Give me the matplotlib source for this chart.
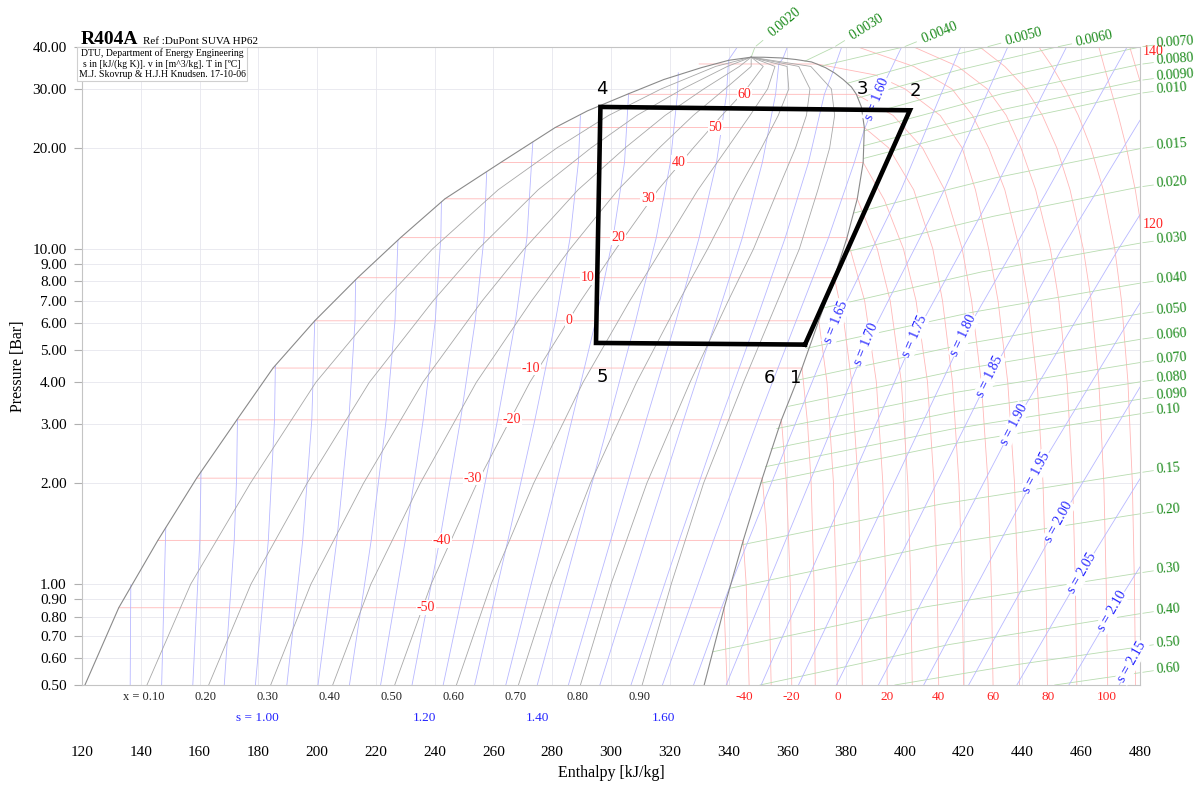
import math
import matplotlib
matplotlib.use("Agg")
import matplotlib.pyplot as plt
import matplotlib.transforms as mtransforms
from matplotlib.ticker import NullLocator

plt.rcParams["font.family"] = ["Liberation Serif", "DejaVu Serif"]

# ---------------- saturation dome ----------------
LIQ_H = [121.0, 132.5, 145.8, 159.0, 172.7, 185.0, 199.2, 213.8, 228.4, 243.5, 262.5, 281.0,
         292.0, 305.5, 318.0, 330.7, 340.0, 347.7]
LIQ_P = [0.5, 0.85, 1.35, 2.07, 3.09, 4.41, 6.1, 8.2, 10.8, 14.1, 18.1, 23.0,
         25.8, 28.9, 32.0, 34.7, 36.5, 37.3]
VAP_H = [347.7, 352.0, 358.0, 363.0, 368.2, 370.0, 373.0, 376.0, 379.0, 381.8, 383.5, 385.2,
         386.2, 385.8, 383.8, 380.3, 376.0, 370.7, 365.0, 358.0, 351.5, 345.0, 338.5, 331.7]
VAP_P = [37.3, 37.28, 37.1, 36.7, 36.1, 35.6, 34.7, 33.5, 32.0, 30.4, 28.9, 26.5,
         23.0, 18.1, 14.1, 10.8, 8.2, 6.1, 4.41, 3.09, 2.07, 1.35, 0.85, 0.5]

# ---------------- refrigeration cycle ----------------
CYCLE_H = [366.0, 401.7, 296.4, 294.9, 366.0]
CYCLE_P = [5.18, 25.9, 26.5, 5.24, 5.18]
POINT_NAMES = ["4", "3", "2", "5", "6", "1"]
POINT_H = [297.0, 385.6, 403.4, 297.0, 353.8, 362.9]
POINT_P = [29.9, 29.9, 29.5, 4.16, 4.12, 4.12]

# ---------------- axes ----------------
H_TICKS = list(range(120, 481, 20))
P_TICKS = [0.5, 0.6, 0.7, 0.8, 0.9, 1, 2, 3, 4, 5, 6, 7, 8, 9, 10, 20, 30, 40]

# ---------------- isotherms [C] ----------------
ISO_T = [-50, -40, -30, -20, -10, 0, 10, 20, 30, 40, 50, 60, 70]
ISO_PSAT = [0.85, 1.35, 2.07, 3.09, 4.41, 6.1, 8.2, 10.8, 14.1, 18.1, 23.0, 28.9, 35.6]
ISO_HLIQ = [132.5, 145.8, 159.0, 172.7, 185.0, 199.2, 213.8, 228.4, 243.5, 262.5, 281.0, 305.5, 330.0]
ISO_VAP_P = [
    [0.5, 0.85],
    [0.5, 1.0, 1.35],
    [0.5, 1.0, 1.5, 2.07],
    [0.5, 1.0, 2.0, 3.09],
    [0.5, 1.0, 2.0, 3.0, 4.41],
    [0.5, 1.0, 2.0, 4.0, 6.1],
    [0.5, 1.0, 2.0, 4.0, 6.0, 8.2],
    [0.5, 1.0, 2.0, 4.0, 7.0, 10.8],
    [0.5, 1.0, 2.0, 4.0, 7.0, 10.0, 14.1],
    [0.5, 1.0, 2.0, 4.0, 7.0, 10.0, 14.0, 18.1],
    [0.5, 1.0, 2.0, 4.0, 7.0, 10.0, 15.0, 20.0, 23.0],
    [0.5, 1.0, 2.0, 4.0, 7.0, 10.0, 15.0, 20.0, 25.0, 28.9],
    [0.5, 1.0, 2.0, 4.0, 7.0, 10.0, 15.0, 20.0, 25.0, 30.0, 33.0, 35.6],
]
ISO_VAP_H = [
    [339.5, 338.5],
    [347.0, 346.0, 345.0],
    [354.5, 353.7, 352.8, 351.5],
    [361.5, 361.0, 359.7, 358.0],
    [369.5, 369.1, 368.1, 366.9, 365.0],
    [377.0, 376.6, 375.7, 373.5, 370.7],
    [385.5, 385.0, 384.1, 381.9, 379.3, 376.0],
    [394.0, 393.5, 392.5, 390.3, 386.3, 380.3],
    [402.5, 402.0, 401.0, 398.8, 395.0, 390.6, 383.8],
    [411.5, 411.0, 409.9, 407.7, 403.8, 399.5, 393.0, 385.8],
    [420.0, 419.5, 418.4, 416.2, 412.8, 409.5, 403.0, 394.5, 386.2],
    [430.0, 429.4, 428.3, 426.0, 422.7, 419.5, 413.5, 406.0, 396.0, 383.5],
    [439.0, 438.4, 437.3, 435.0, 431.7, 428.5, 424.0, 419.5, 412.0, 400.0, 390.0, 370.0],
]
ISO_LABEL_H = [236.9, 242.4, 253.0, 266.3, 272.7, 285.7, 292.2, 302.4, 312.6, 323.2, 335.5, 345.4]

SUPER_T = [80, 90, 100, 110, 120, 130]
SUPER_P = [0.5, 1, 2, 4, 7, 10, 15, 20, 25, 30, 35, 40]
SUPER_H = [
    [448.5, 448.0, 447.0, 445.0, 442.0, 439.0, 434.0, 428.5, 423.0, 416.0, 403.0, 384.0],
    [458.5, 458.0, 457.1, 455.2, 452.4, 449.5, 444.5, 439.5, 434.5, 428.0, 418.0, 403.0],
    [469.0, 468.5, 467.7, 466.0, 463.4, 460.7, 456.2, 451.7, 446.8, 441.2, 434.0, 425.5],
    [478.5, 478.1, 477.4, 475.9, 473.7, 471.4, 467.5, 463.3, 459.0, 454.5, 450.1, 445.6],
    [488.5, 488.1, 487.4, 486.0, 483.8, 481.6, 478.4, 475.4, 472.6, 470.0, 467.8, 466.0],
    [498.5, 498.1, 497.4, 496.1, 494.1, 492.1, 489.0, 486.0, 483.3, 480.8, 478.5, 476.5],
]
BOTTOM_T = ["-40", "-20", "0", "20", "40", "60", "80", "100"]
BOTTOM_T_H = [345.3, 361.4, 377.1, 393.8, 411.5, 429.9, 448.6, 468.8]
RIGHT_T = ["120", "140"]
RIGHT_T_P = [11.8, 38.8]

# ---------------- vapour quality lines ----------------
X_TEXT = ["x = 0.10", "0.20", "0.30", "0.40", "0.50", "0.60", "0.70", "0.80", "0.90"]
X_P = [0.5, 1, 2, 4, 7, 10, 15, 20, 25, 30, 35, 37.3]
X_H = [
    [142.1, 157.0, 177.3, 199.6, 222.7, 239.3, 261.6, 281.6, 299.2, 317.1, 335.6, 347.7],
    [163.1, 177.5, 196.6, 217.8, 239.5, 254.9, 275.2, 293.2, 308.8, 324.4, 339.6, 347.7],
    [184.2, 197.9, 215.8, 236.0, 256.2, 270.5, 288.8, 304.8, 318.4, 331.6, 343.7, 347.7],
    [205.3, 218.3, 235.1, 254.2, 273.0, 286.1, 302.4, 316.4, 328.0, 338.8, 347.7, 347.7],
    [226.4, 238.8, 254.4, 272.4, 289.7, 301.7, 316.0, 328.0, 337.7, 346.1, 351.8, 347.7],
    [247.4, 259.2, 273.7, 290.5, 306.4, 317.3, 329.6, 339.6, 347.3, 353.3, 355.8, 347.7],
    [268.5, 279.6, 293.0, 308.7, 323.2, 332.9, 343.2, 351.2, 356.9, 360.5, 359.9, 347.7],
    [289.6, 300.0, 312.2, 326.9, 339.9, 348.5, 356.8, 362.8, 366.5, 367.7, 363.9, 347.7],
    [310.6, 320.5, 331.5, 345.1, 356.7, 364.1, 370.4, 374.4, 376.1, 375.0, 368.0, 347.7],
]

# ---------------- isentropes [kJ/(kg K)] ----------------
S_TP_H = [
    [136.4, 136.6],
    [147.1, 148.5],
    [157.7, 160.1, 160.5],
    [168.4, 171.8, 172.6, 172.9],
    [179.0, 183.4, 185.5, 185.8],
    [189.7, 195.1, 198.2, 199.2],
    [200.3, 206.7, 210.8, 212.9, 213.1],
    [211.0, 218.4, 223.5, 226.5, 227.5],
    [221.6, 230.0, 236.1, 240.2, 242.1, 242.3],
    [232.3, 241.7, 248.8, 253.8, 256.8, 257.7],
    [242.9, 253.3, 261.4, 267.5, 271.4, 273.4],
    [253.6, 264.9, 274.1, 281.1, 286.1, 288.9, 289.6],
    [264.2, 276.6, 286.7, 294.8, 300.7, 304.6, 306.0],
    [274.9, 288.3, 299.4, 308.4, 315.4, 320.2, 322.6, 322.9],
    [285.5, 299.9, 312.0, 322.1, 330.0, 335.9, 339.3, 340.0, 343.0],
    [296.2, 311.6, 324.7, 335.7, 344.7, 351.5, 356.0, 357.1, 358.5, 360.0],
    [306.8, 323.2, 337.3, 349.4, 359.3, 367.2, 372.6, 375.5, 378.5],
    [317.5, 334.9, 350.0, 363.0, 374.0, 382.8, 386.2, 390.4, 398.9],
    [328.1, 337.6, 341.2, 359.0, 376.7, 398.7, 419.0],
]
S_TP_P = [
    [0.5, 0.995],
    [0.5, 1.474],
    [0.5, 1.35, 2.16],
    [0.5, 1.35, 2.07, 3.10],
    [0.5, 1.35, 3.09, 4.49],
    [0.5, 1.35, 3.09, 6.1],
    [0.5, 1.35, 3.09, 6.1, 8.08],
    [0.5, 1.35, 3.09, 6.1, 10.6],
    [0.5, 1.35, 3.09, 6.1, 10.8, 13.8],
    [0.5, 1.35, 3.09, 6.1, 10.8, 16.9],
    [0.5, 1.35, 3.09, 6.1, 10.8, 20.8],
    [0.5, 1.35, 3.09, 6.1, 10.8, 18.1, 24.95],
    [0.5, 1.35, 3.09, 6.1, 10.8, 18.1, 29.1],
    [0.5, 1.35, 3.09, 6.1, 10.8, 18.1, 28.9, 33.5],
    [0.5, 1.35, 3.09, 6.1, 10.8, 18.1, 28.9, 36.6, 40.0],
    [0.5, 1.35, 3.09, 6.1, 10.8, 18.1, 28.9, 35.6, 37.0, 40.0],
    [0.5, 1.35, 3.09, 6.1, 10.8, 18.1, 28.9, 33.7, 40.0],
    [0.5, 1.35, 3.09, 6.1, 10.8, 18.1, 22.7, 28.0, 40.0],
    [0.5, 0.85, 1.02, 2.5, 6.05, 15.0, 40.0],
]
S_VAP_H = [
    [339.2, 386.9, 413.4, 435.0],
    [351.1, 403.3, 430.5, 455.0],
    [363.8, 420.0, 448.6, 475.6],
    [376.7, 428.9, 453.4, 481.0],
    [391.0, 437.1, 472.7, 485.3],
    [406.4, 444.9, 475.7, 491.5],
    [421.7, 452.4, 481.0],
    [438.1, 460.2, 482.0],
    [455.8, 470.5, 482.0],
    [472.9, 477.3, 482.0],
]
S_VAP_P = [
    [0.5, 5.2, 15.0, 40.0],
    [0.5, 5.48, 15.0, 40.0],
    [0.5, 5.5, 15.0, 40.0],
    [0.5, 4.17, 10.0, 25.0],
    [0.5, 2.99, 10.0, 15.0],
    [0.5, 2.15, 6.0, 10.0],
    [0.5, 1.53, 4.0],
    [0.5, 1.08, 2.2],
    [0.5, 0.83, 1.2],
    [0.5, 0.585, 0.68],
]
S_LABEL_TEXT = ["s = 1.60", "s = 1.65", "s = 1.70", "s = 1.75", "s = 1.80", "s = 1.85",
                "s = 1.90", "s = 1.95", "s = 2.00", "s = 2.05", "s = 2.10", "s = 2.15"]
S_LABEL_H = [390.4, 376.7, 386.9, 403.3, 420.0, 428.9, 437.1, 444.9, 452.4, 460.2, 470.5, 477.3]
S_LABEL_P = [28.0, 6.05, 5.2, 5.48, 5.5, 4.17, 2.99, 2.15, 1.53, 1.08, 0.83, 0.585]
S_BOTTOM_TEXT = ["s = 1.00", "1.20", "1.40", "1.60"]
S_BOTTOM_H = [179.7, 236.6, 275.1, 317.7]

# ---------------- isochores [m^3/kg] ----------------
V_TEXT = ["0.0020", "0.0030", "0.0040", "0.0050", "0.0060", "0.0070", "0.0080", "0.0090",
          "0.010", "0.015", "0.020", "0.030", "0.040", "0.050", "0.060", "0.070", "0.080",
          "0.090", "0.10", "0.15", "0.20", "0.30", "0.40", "0.50", "0.60"]
V_H = [
    [347.7, 349.0], [366.0, 376.0], [371.5, 385.5, 399.6], [380.5, 404.0, 427.8],
    [384.0, 418.0, 451.7], [385.8, 433.0, 480.0], [386.2, 433.0, 480.0], [386.0, 433.0, 480.0],
    [385.9, 433.0, 480.0], [382.8, 431.0, 480.0], [379.5, 430.0, 480.0], [372.2, 426.0, 480.0],
    [366.6, 423.0, 480.0], [363.6, 422.0, 480.0], [360.4, 420.0, 480.0], [356.4, 418.0, 480.0],
    [354.5, 417.0, 480.0], [352.6, 416.0, 480.0], [351.0, 415.0, 480.0], [344.6, 412.0, 480.0],
    [340.3, 410.0, 480.0], [334.6, 407.0, 480.0], [350.7, 415.0, 480.0], [396.6, 438.0, 480.0],
    [451.0, 480.0],
]
V_P = [
    [37.3, 40.0], [36.3, 40.0], [35.1, 37.5, 40.0], [31.2, 35.6, 40.0],
    [28.2, 34.1, 40.0], [25.0, 32.5, 40.0], [22.5, 29.0, 35.5], [20.3, 26.0, 31.8],
    [18.6, 23.8, 29.1], [12.8, 16.3, 19.9], [9.77, 12.5, 15.3], [6.66, 8.53, 10.4],
    [5.05, 6.47, 7.9], [4.06, 5.23, 6.4], [3.39, 4.38, 5.37], [2.91, 3.74, 4.58],
    [2.53, 3.27, 4.01], [2.24, 2.9, 3.56], [2.0, 2.61, 3.22], [1.31, 1.73, 2.15],
    [0.971, 1.30, 1.62], [0.628, 0.855, 1.08], [0.5, 0.66, 0.816], [0.5, 0.575, 0.65],
    [0.5, 0.544],
]

# colours
RED_LINE, RED_TXT = "#ffb8b8", "#ff2222"
BLUE_LINE, BLUE_TXT = "#b8b8ff", "#2222ff"
GREEN_LINE, GREEN_TXT = "#b8dcb0", "#1a8a1a"
GRAY_LINE = "#a8a8a8"

fig = plt.figure(figsize=(11.99, 7.90), dpi=100)
ax = fig.add_axes([82 / 1199, 105 / 790, 1058 / 1199, 638 / 790])
ax.set_yscale("log")
ax.set_xlim(120, 480)
ax.set_ylim(0.5, 40)

ax.set_xticks(H_TICKS)
ax.set_xticklabels([str(h) for h in H_TICKS])
ax.set_yticks(P_TICKS)
ax.set_yticklabels([f"{p:.2f}" for p in P_TICKS])
ax.yaxis.set_minor_locator(NullLocator())
ax.tick_params(axis="x", length=0, pad=44, labelsize=11)
ax.tick_params(axis="y", length=6, width=0.8, pad=5, color="#b0b0b0", labelsize=11)
ax.grid(True, color="#e6e6ee", lw=0.6, zorder=0)
ax.set_axisbelow(True)
for sp in ax.spines.values():
    sp.set_color("#c4c4c4")
    sp.set_linewidth(0.8)

ax.set_xlabel("Enthalpy [kJ/kg]", fontsize=11.5)
ax.xaxis.set_label_coords(0.5, -0.126)
ax.set_ylabel("Pressure [Bar]", fontsize=11.5)
ax.yaxis.set_label_coords(-0.053, 0.5)

lw = 0.6
# isotherms
for hv, pv, hl, ps in zip(ISO_VAP_H, ISO_VAP_P, ISO_HLIQ, ISO_PSAT):
    ax.plot(hv + [hl], pv + [ps], color=RED_LINE, lw=lw, zorder=1)
for hs in SUPER_H:
    ax.plot(hs, SUPER_P, color=RED_LINE, lw=lw, zorder=1)
# isochores
for hs, ps in zip(V_H, V_P):
    ax.plot(hs, ps, color=GREEN_LINE, lw=lw, zorder=1)
# isentropes
for hs, ps in zip(S_TP_H + S_VAP_H, S_TP_P + S_VAP_P):
    ax.plot(hs, ps, color=BLUE_LINE, lw=lw, zorder=1.5)
# quality lines
for hs in X_H:
    ax.plot(hs, X_P, color=GRAY_LINE, lw=lw, zorder=2)
# dome
ax.plot(LIQ_H, LIQ_P, color="#8a8a8a", lw=0.8, zorder=3)
ax.plot(VAP_H, VAP_P, color="#8a8a8a", lw=0.8, zorder=3)

# cycle
ax.plot(CYCLE_H, CYCLE_P, color="black", lw=3.3, solid_joinstyle="miter", zorder=6)
for name, h, p in zip(POINT_NAMES, POINT_H, POINT_P):
    ax.text(h, p, name, family="DejaVu Sans", fontsize=13, ha="center", va="center", zorder=7)

white = dict(facecolor="white", edgecolor="none", pad=0.6)

# isotherm labels inside dome
for t, h, p in zip(ISO_T, ISO_LABEL_H, ISO_PSAT):
    ax.text(h, p, str(t), color=RED_TXT, fontsize=10, ha="center", va="center", bbox=white, zorder=5)

below = mtransforms.blended_transform_factory(ax.transData, ax.transAxes)
for t, h in zip(BOTTOM_T, BOTTOM_T_H):
    ax.text(h, -0.019, t, transform=below, color=RED_TXT, fontsize=9.5, ha="center", va="center")
for t, p in zip(RIGHT_T, RIGHT_T_P):
    ax.text(480.8, p, t, color=RED_TXT, fontsize=10, ha="left", va="center", clip_on=False)
for t, hs in zip(X_TEXT, X_H):
    ax.text(hs[0] - 1.0, -0.019, t, transform=below, color="#222222", fontsize=9, ha="center", va="center")
for t, h in zip(S_BOTTOM_TEXT, S_BOTTOM_H):
    ax.text(h, -0.052, t, transform=below, color=BLUE_TXT, fontsize=9.5, ha="center", va="center")


def disp_angle(h0, p0, h1, p1):
    x0, y0 = ax.transData.transform((h0, p0))
    x1, y1 = ax.transData.transform((h1, p1))
    return math.degrees(math.atan2(y1 - y0, x1 - x0))


# isentrope labels in the vapour region
s_lines_h = [S_TP_H[-2], S_TP_H[-1]] + S_VAP_H
s_lines_p = [S_TP_P[-2], S_TP_P[-1]] + S_VAP_P
for t, h, p, lh, lp in zip(S_LABEL_TEXT, S_LABEL_H, S_LABEL_P, s_lines_h, s_lines_p):
    k = lp.index(p)
    ang = disp_angle(lh[k - 1], lp[k - 1], lh[k], lp[k])
    ax.text(h, p, t, color=BLUE_TXT, fontsize=10, ha="center", va="center", rotation=ang,
            rotation_mode="anchor", bbox=white, zorder=5)

# isochore labels
top_rot = [40, 32, 22, 15, 12]
for i, (t, hs, ps) in enumerate(zip(V_TEXT, V_H, V_P)):
    if i < 5:
        th = math.radians(top_rot[i])
        ax.annotate(t, xy=(hs[-1], 40), xytext=(14 * math.cos(th), 14 * math.sin(th)),
                    textcoords="offset points", color=GREEN_TXT, fontsize=10, ha="left", va="center",
                    rotation=top_rot[i], rotation_mode="anchor", annotation_clip=False,
                    arrowprops=dict(arrowstyle="-", color=GREEN_LINE, lw=0.6, shrinkA=0, shrinkB=1))
    else:
        ax.annotate(t, xy=(480, ps[-1]), xytext=(12, 2.5), textcoords="offset points",
                    color=GREEN_TXT, fontsize=10, ha="left", va="center", rotation=4,
                    rotation_mode="anchor", annotation_clip=False,
                    arrowprops=dict(arrowstyle="-", color=GREEN_LINE, lw=0.6, shrinkA=0, shrinkB=2))

# header
fig.text(81 / 1199, 1 - 44 / 790, "R404A", fontsize=14, weight="bold", va="baseline")
fig.text(143 / 1199, 1 - 44 / 790, "Ref :DuPont SUVA HP62", fontsize=8, va="baseline")
ax.text(0.0756, 0.9735,
        "DTU, Department of Energy Engineering\ns in [kJ/(kg K)]. v in [m^3/kg]. T in [\u00baC]\n"
        "M.J. Skovrup & H.J.H Knudsen. 17-10-06",
        transform=ax.transAxes, fontsize=7.0, ha="center", va="center", linespacing=1.15,
        bbox=dict(facecolor="white", edgecolor="#d0d0d0", pad=1.5, lw=0.8), zorder=8)

fig.savefig("out.png", dpi=100)
